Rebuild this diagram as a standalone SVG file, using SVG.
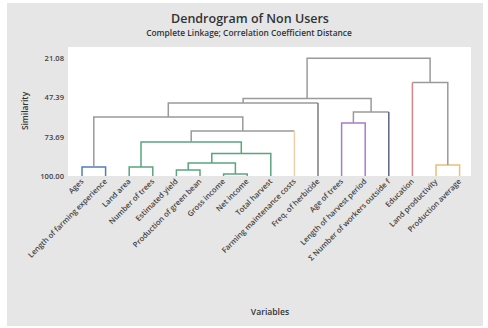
<svg xmlns="http://www.w3.org/2000/svg" width="488" height="328" viewBox="0 0 488 328">
<style>
.ttl{font-family:"Open Sans","Liberation Sans",sans-serif;font-weight:600;fill:#333}
.lbl{font-family:"Open Sans","Liberation Sans",sans-serif;font-size:7.6px;font-weight:600;fill:#444;text-anchor:end}
.tick{font-family:"Open Sans","Liberation Sans",sans-serif;font-size:7.6px;font-weight:600;fill:#444;text-anchor:end}
.lk{fill:none;stroke-width:1.5}
.g{stroke:#9a9a9a}
.blue{stroke:#4f7fc0}
.green{stroke:#5aa57e}
.purple{stroke:#a77bd0}
.orange{stroke:#f0bc78}
.lorange{stroke:#f3cfa8}
.navy{stroke:#5b6488}
.red{stroke:#d9868a}
.dgray{stroke:#7d7d7d}
</style>
<rect x="0" y="0" width="488" height="328" fill="#ffffff"/>
<rect x="7" y="3" width="476" height="323" fill="#e6e6e6"/>
<rect x="68" y="47" width="403" height="129" fill="#ffffff"/>
<text class="ttl" x="250" y="23" font-size="12.5" text-anchor="middle">Dendrogram of Non Users</text>
<text class="ttl" x="249" y="36" font-size="8.4" text-anchor="middle">Complete Linkage; Correlation Coefficient Distance</text>
<g id="yaxis">
<text class="tick" x="64" y="61">21.08</text>
<text class="tick" x="64" y="100">47.39</text>
<text class="tick" x="64" y="140">73.69</text>
<text class="tick" x="64" y="179">100.00</text>
<text class="ttl" font-size="8.4" text-anchor="middle" transform="translate(28,111) rotate(-90)">Similarity</text>
</g>
<text class="ttl" x="270" y="315" font-size="8.6" text-anchor="middle">Variables</text>
<g id="connectors">
<path class="lk blue" d="M82 176V167H105.6V176"/>
<path class="lk green" d="M129.2 176V167H152.8V176"/>
<path class="lk green" d="M176.4 176V170H200V176"/>
<path class="lk green" d="M223.6 176V174H247.2V176"/>
<path class="lk green" d="M188.2 170V163H235.4V174"/>
<path class="lk green" d="M211.8 163V153.5H270.8V176"/>
<path class="lk green" d="M141 167V142H241.3V153.5"/>
<path class="lk g" d="M191.2 142V131H294.4"/>
<path class="lk lorange" d="M294.4 131V176"/>
<path class="lk g" d="M93.8 167V117H242.8V131"/>
<path class="lk g" d="M168.3 117V103H318"/>
<path class="lk dgray" d="M318 103V176"/>
<path class="lk purple" d="M341.6 176V123H365.2V176"/>
<path class="lk g" d="M353.4 123V112H388.8"/>
<path class="lk navy" d="M388.8 112V176"/>
<path class="lk g" d="M243.1 103V98.5H371.1V112"/>
<path class="lk orange" d="M436 176V165H459.6V176"/>
<path class="lk g" d="M412.4 82.5H447.8V165"/>
<path class="lk red" d="M412.4 82.5V176"/>
<path class="lk g" d="M307.1 98.5V58.3H430.1V82.5"/>
</g>
<g id="leaf-0"><text class="lbl" transform="translate(84,182) rotate(-45)">Ages</text></g>
<g id="leaf-1"><text class="lbl" transform="translate(107.6,182) rotate(-45)">Length of farming experience</text></g>
<g id="leaf-2"><text class="lbl" transform="translate(131.2,182) rotate(-45)">Land area</text></g>
<g id="leaf-3"><text class="lbl" transform="translate(154.8,182) rotate(-45)">Number of trees</text></g>
<g id="leaf-4"><text class="lbl" transform="translate(178.4,182) rotate(-45)">Estimated yield</text></g>
<g id="leaf-5"><text class="lbl" transform="translate(202,182) rotate(-45)">Production of green bean</text></g>
<g id="leaf-6"><text class="lbl" transform="translate(225.6,182) rotate(-45)">Gross income</text></g>
<g id="leaf-7"><text class="lbl" transform="translate(249.2,182) rotate(-45)">Net income</text></g>
<g id="leaf-8"><text class="lbl" transform="translate(272.8,182) rotate(-45)">Total harvest</text></g>
<g id="leaf-9"><text class="lbl" transform="translate(296.4,182) rotate(-45)">Farming maintenance costs</text></g>
<g id="leaf-10"><text class="lbl" transform="translate(320,182) rotate(-45)">Freq. of herbicide</text></g>
<g id="leaf-11"><text class="lbl" transform="translate(343.6,182) rotate(-45)">Age of trees</text></g>
<g id="leaf-12"><text class="lbl" transform="translate(367.2,182) rotate(-45)">Length of harvest period</text></g>
<g id="leaf-13"><text class="lbl" transform="translate(390.8,182) rotate(-45)">Σ Number of workers outside f</text></g>
<g id="leaf-14"><text class="lbl" transform="translate(414.4,182) rotate(-45)">Education</text></g>
<g id="leaf-15"><text class="lbl" transform="translate(438,182) rotate(-45)">Land productivity</text></g>
<g id="leaf-16"><text class="lbl" transform="translate(461.6,182) rotate(-45)">Production average</text></g>
</svg>
